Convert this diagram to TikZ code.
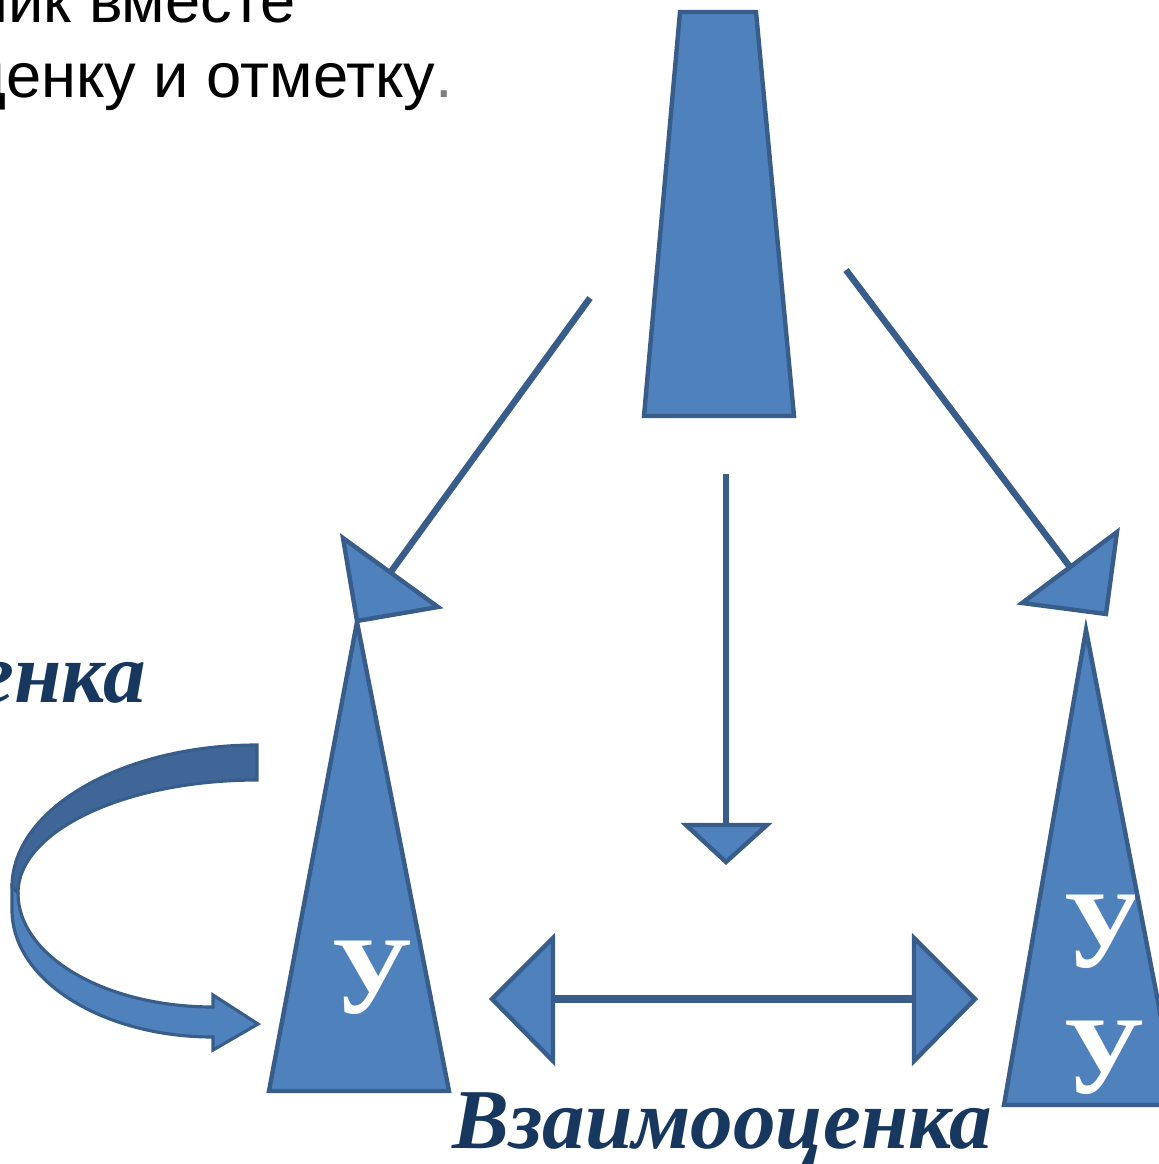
\documentclass[tikz,border=0pt]{standalone}
\usepackage{fontspec}
\setmainfont{Liberation Serif}
\newfontfamily\slidefont{Liberation Sans}
\usetikzlibrary{positioning}
\definecolor{shapefill}{HTML}{4F81BD}
\definecolor{shapeline}{HTML}{385D8A}
\definecolor{bandback}{HTML}{3F6696}
\definecolor{labelnavy}{HTML}{17375E}
\tikzset{
block shape/.style = {
             draw=shapeline,
             fill=shapefill,
             line width=2.5pt,
             line join=miter
   },
link/.style = {
     draw=shapeline,
     line width=3.7pt
     },
big letter/.style = {
    text=white, inner sep=0pt,
    font=\fontsize{63}{63}\selectfont\bfseries
  },
caption/.style = {
    text=labelnavy, inner sep=0pt,
    font=\fontsize{48.5}{48.5}\selectfont\bfseries\itshape
  },
slide text/.style = {
    inner sep=0pt,
    font=\slidefont\fontsize{36}{36}\selectfont
  }
}

\begin{document}
\begin{tikzpicture}[x=0.02cm, y=-0.02cm]
\clip (0,0) rectangle (1159,1164);
% text of the slide
\node[slide text, anchor=base east] (line one) at (296,22) {ник вместе};
\node[slide text, anchor=base east] (line two) at (453,97) {ценку и отметку{\color{gray}.}};
% top block
\filldraw[block shape] (680,12) -- (756,12) -- (794,416) -- (644,416) -- cycle;
% connectors
\coordinate (left start) at (590,298);
\coordinate (left end) at (390,573);
\coordinate (right start) at (846,270);
\coordinate (right end) at (1070,567);
\coordinate (mid start) at (726,474);
\coordinate (mid end) at (726,826);
\coordinate (pair left) at (553,999);
\coordinate (pair right) at (914,999);
\draw[link] (left start) -- (left end);
\draw[link] (right start) -- (right end);
\draw[link] (mid start) -- (mid end);
\draw[link, line width=4.1pt] (pair left) -- (pair right);
% heads
\filldraw[block shape] (343,538) -- (438,607) -- (357,621) -- cycle;
\filldraw[block shape] (1117,532) -- (1022,603) -- (1106,614) -- cycle;
\filldraw[block shape] (686,825) -- (767,825) -- (726,862) -- cycle;
\filldraw[block shape] (492,999) -- (553,938) -- (553,1061) -- cycle;
\filldraw[block shape] (975,999) -- (914,938) -- (914,1061) -- cycle;
% tall blocks
\filldraw[block shape] (357,622) -- (449,1091) -- (269,1091) -- cycle;
\filldraw[block shape] (1086,630) -- (1178,1105) -- (1004,1105) -- cycle;
% curved arrow
\filldraw[block shape, fill=bandback, line width=1.8pt] (257,745) .. controls (122,745) and (12,809) .. (12,887)
  -- (18,893) .. controls (18,831) and (125,780) .. (257,780) -- cycle;
\filldraw[block shape, line width=1.8pt] (12,887) -- (12,910) .. controls (12,980) and (102,1037) .. (213,1037)
  -- (213,1050) -- (258,1024) -- (213,995) -- (213,1007)
  .. controls (105,1007) and (18,956) .. (18,893) -- cycle;
% letters
\node[big letter, anchor=base west] (u left) at (331,1013) {У};
\begin{scope}
\clip (1000,880) rectangle (1134,980);
\node[big letter, anchor=base west] (u top) at (1063,967) {У};
\end{scope}
\node[big letter, anchor=base west] (u bottom) at (1063,1093) {У};
% captions
\node[caption, anchor=base east] (self mark) at (146,702) {енка};
\node[caption, anchor=base west] (mutual mark) at (452,1148) {Взаимооценка};
\end{tikzpicture}
\end{document}
